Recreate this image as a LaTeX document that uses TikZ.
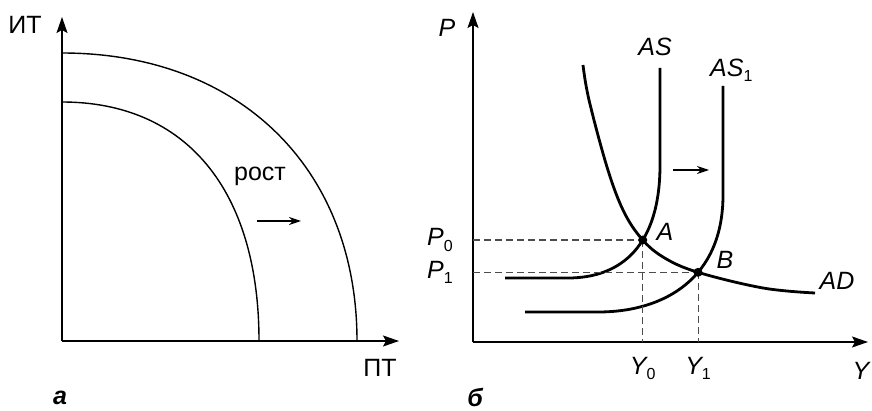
\documentclass[tikz,border=0pt]{standalone}
\usepackage{fontspec}
\setmainfont{Liberation Sans}
\usetikzlibrary{arrows.meta,intersections}
\newcommand{\lsub}[1]{\raisebox{-0.4ex}{\fontsize{16}{16}\selectfont\upshape #1}}
\begin{document}
\begin{tikzpicture}[x=1pt,y=-1pt,
  axis/.style={line width=1.3pt,-{Stealth[length=16pt,width=11pt,inset=3pt]}},
  thincurve/.style={line width=1.4pt},
  thickcurve/.style={line width=2.8pt},
  guide/.style={dash pattern=on 7pt off 4pt, line width=1.1pt, black!70},
  shiftarrow/.style={line width=1.3pt,-{Stealth[length=12pt,width=8pt]}},
  lbl/.style={inner sep=0pt, font=\fontsize{25}{28}\selectfont},
  ilbl/.style={inner sep=0pt, font=\fontsize{25}{28}\selectfont\itshape},
  panel/.style={inner sep=0pt, font=\fontsize{25}{28}\selectfont\bfseries\itshape},
  dot/.style={circle, fill=black, inner sep=0pt, minimum size=9pt},
]
\useasboundingbox (0,0) rectangle (872,411);

% ---------- panel a ----------
\coordinate (O1) at (62,341);
\coordinate (Ytop1) at (62,17);
\coordinate (Xend1) at (399,341);
\draw[axis] (O1) -- (Ytop1);
\draw[axis] (O1) -- (Xend1);
\draw[thincurve] (62,102) .. controls (186,102) and (259,190) .. (259,341);
\draw[thincurve] (62,53) .. controls (239,53) and (357,168) .. (357,341);
\node[lbl] (IT) at (25,25) {ИТ};
\node[lbl] (PT) at (380,368) {ПТ};
\node[lbl] (rost) at (260,176) {рост};
\coordinate (ra1) at (257,221);
\coordinate (ra2) at (301,221);
\draw[shiftarrow] (ra1) -- (ra2);
\node[panel] (pa) at (60,398) {а};

% ---------- panel b ----------
\coordinate (O2) at (473,342);
\coordinate (Ytop2) at (473,12);
\coordinate (Xend2) at (868,342);
\draw[axis] (O2) -- (Ytop2);
\draw[axis] (O2) -- (Xend2);

\draw[thickcurve, name path=AS] (505,278) -- (568,278)
  .. controls (622,278) and (660,245) .. (660,165) -- (660,68);
\draw[thickcurve, name path=ASone] (525,312) -- (598,312)
  .. controls (665,312) and (723,278) .. (723,195) -- (723,86);
\draw[thickcurve, name path=AD] plot[smooth, tension=0.6] coordinates
  {(583,65) (589,100) (607,167) (623,210) (641,238) (663,257) (697,272) (763,288) (815,293)};

\path[name intersections={of=AS and AD, by=A}];
\path[name intersections={of=ASone and AD, by=B}];

\draw[guide] (A -| O2) -- (A);
\draw[guide] (B -| O2) -- (B);
\draw[guide] (A) -- (A |- O2);
\draw[guide] (B) -- (B |- O2);

\node[dot] (Adot) at (A) {};
\node[dot] (Bdot) at (B) {};

\node[ilbl, anchor=east] (P0) at ([xshift=-20pt]A -| O2) {P\lsub{0}};
\node[ilbl, anchor=east] (P1) at ([xshift=-20pt]B -| O2) {P\lsub{1}};
\node[ilbl, anchor=north] (Y0) at ([yshift=-15pt]A |- O2) {Y\lsub{0}};
\node[ilbl, anchor=north] (Y1) at ([yshift=-15pt]B |- O2) {Y\lsub{1}};

\node[ilbl] (Plab) at (447,28) {P};
\node[ilbl] (Ylab) at (861,371) {Y};
\node[ilbl] (ASlab) at (655,47) {AS};
\node[ilbl, anchor=west] (AS1lab) at (710,70) {AS\lsub{1}};
\node[ilbl] (ADlab) at (837,281) {AD};
\node[ilbl] (Alab) at (665,232) {A};
\node[ilbl] (Blab) at (725,260) {B};

\coordinate (sa1) at (673,170);
\coordinate (sa2) at (709,170);
\draw[shiftarrow] (sa1) -- (sa2);
\node[panel] (pb) at (475,397) {б};
\end{tikzpicture}
\end{document}
